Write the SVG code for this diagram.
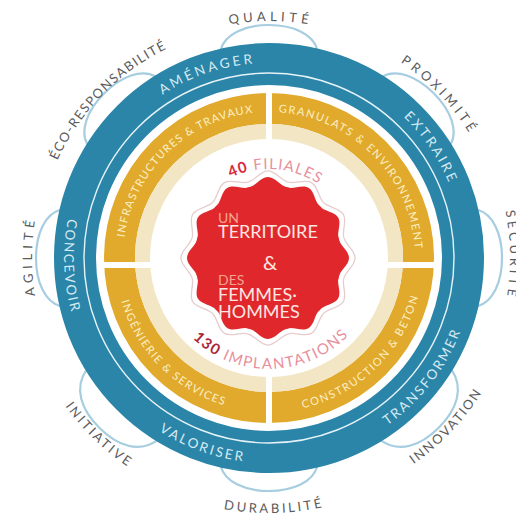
<svg xmlns="http://www.w3.org/2000/svg" width="516" height="518" viewBox="0 0 516 518">
<style>
  text{font-family:Lato,"Liberation Sans",Arial,sans-serif}
  .outer{font-size:13px;fill:#5c5c5c;letter-spacing:1px}
  .blue{font-size:13.5px;fill:#d4eaf3}
  .gold{font-size:11px;fill:#fcefc4}
  .wave{fill:none;stroke:#a6cde0;stroke-width:2.2}
  .mid{font-size:15px;fill:#e8909c}
  .salmon{fill:#f4a390}
  .light{fill:#fde6e2}
</style>
<defs>
  <path id="pQual" d="M63.8,139.5 A237,237 0 0 1 474.2,139.5"/>
  <path id="pProx" d="M211.9,29 A236,236 0 0 1 495.9,323"/>
  <path id="pSecu" d="M385.8,47.2 A241,241 0 0 1 393.1,464.6"/>
  <path id="pInno" d="M209.8,502.9 A252,252 0 0 0 510.7,186.9"/>
  <path id="pDura" d="M50.4,389.3 A255,255 0 0 0 492,381.6"/>
  <path id="pInit" d="M24.5,197 A252,252 0 0 0 338.5,500.2"/>
  <path id="pAgil" d="M150.5,463.2 A237,237 0 0 1 150.5,52.8"/>
  <path id="pEco" d="M44.6,320.7 A233,233 0 0 1 326.9,32.3"/>
  <path id="pAmen" d="M77.6,220.8 A195,195 0 0 1 396.9,110.8"/>
  <path id="pExtr" d="M253.4,63.6 A195,195 0 0 1 445.1,341.6"/>
  <path id="pTran" d="M240.5,461 A205,205 0 0 0 459.1,181.2"/>
  <path id="pValo" d="M67.1,293.6 A205,205 0 0 0 400.8,415"/>
  <path id="pConc" d="M160.4,84.2 A205,205 0 0 0 172.8,439"/>
  <path id="pInfr" d="M127.5,293.8 A146,146 0 0 1 308.8,117.5"/>
  <path id="pGran" d="M231.2,117 A146,146 0 0 1 410,295.8"/>
  <path id="pCons" d="M226.6,406 A154,154 0 0 0 418.4,220.7"/>
  <path id="pIng" d="M120.5,217.1 A154,154 0 0 0 307.8,407"/>
  <path id="pFil" d="M195.2,208.2 A89,89 0 0 1 349,219"/>
  <path id="pImp" d="M173.9,315.2 A111,111 0 0 0 366.1,311.8"/>
  <path id="bumpA" d="M-48.2,-208.5 C-44,-224 -24,-233 0,-233 C24,-233 44,-224 48.2,-208.5"/>
  <path id="bumpB" d="M-50,-208 C-46,-230 -26,-240 0,-240 C26,-240 46,-230 50,-208"/>
  <path id="wedge" d="M0,0 L70.51,-18.89 C72.32,-12.13 81,-7 81,0 C81,7 72.32,12.13 70.51,18.89 Z"/>
  <path id="lobe" d="M70.51,-18.89 C72.32,-12.13 81,-7 81,0 C81,7 72.32,12.13 70.51,18.89"/>
</defs>
<rect width="516" height="518" fill="#ffffff"/>

<g id="waves" transform="translate(269,258)">
  <use href="#bumpA" class="wave" transform="rotate(0)"/>
  <use href="#bumpA" class="wave" transform="rotate(45)"/>
  <use href="#bumpA" class="wave" transform="rotate(90)"/>
  <use href="#bumpB" class="wave" transform="rotate(135)"/>
  <use href="#bumpA" class="wave" transform="rotate(180)"/>
  <use href="#bumpB" class="wave" transform="rotate(225)"/>
  <use href="#bumpA" class="wave" transform="rotate(270)"/>
  <use href="#bumpA" class="wave" transform="rotate(315)"/>
</g>

<g id="values">
  <text class="outer"><textPath href="#pQual" startOffset="50%" text-anchor="middle" textLength="80" lengthAdjust="spacing">QUALITÉ</textPath></text>
  <text class="outer"><textPath href="#pProx" startOffset="50%" text-anchor="middle" textLength="100" lengthAdjust="spacing">PROXIMITÉ</textPath></text>
  <text class="outer"><textPath href="#pSecu" startOffset="50%" text-anchor="middle" textLength="86" lengthAdjust="spacing">SÉCURITÉ</textPath></text>
  <text class="outer"><textPath href="#pInno" startOffset="50%" text-anchor="middle" textLength="100" lengthAdjust="spacing">INNOVATION</textPath></text>
  <text class="outer"><textPath href="#pDura" startOffset="50%" text-anchor="middle" textLength="100" lengthAdjust="spacing">DURABILITÉ</textPath></text>
  <text class="outer"><textPath href="#pInit" startOffset="50%" text-anchor="middle" textLength="88" lengthAdjust="spacing">INITIATIVE</textPath></text>
  <text class="outer"><textPath href="#pAgil" startOffset="50%" text-anchor="middle" textLength="76" lengthAdjust="spacing">AGILITÉ</textPath></text>
  <text class="outer"><textPath href="#pEco" startOffset="50%" text-anchor="middle" textLength="160" lengthAdjust="spacing">ÉCO-RESPONSABILITÉ</textPath></text>
</g>

<g id="ring-metiers">
  <circle cx="269" cy="258" r="194" fill="none" stroke="#2a85a8" stroke-width="42"/>
  <circle cx="269" cy="258" r="185" fill="none" stroke="#e6f3f8" stroke-width="1.4"/>
  <text class="blue"><textPath href="#pAmen" startOffset="50%" text-anchor="middle" textLength="96" lengthAdjust="spacing">AMÉNAGER</textPath></text>
  <text class="blue"><textPath href="#pExtr" startOffset="50%" text-anchor="middle" textLength="80" lengthAdjust="spacing">EXTRAIRE</textPath></text>
  <text class="blue"><textPath href="#pTran" startOffset="50%" text-anchor="middle" textLength="120" lengthAdjust="spacing">TRANSFORMER</textPath></text>
  <text class="blue"><textPath href="#pValo" startOffset="50%" text-anchor="middle" textLength="90" lengthAdjust="spacing">VALORISER</textPath></text>
  <text class="blue"><textPath href="#pConc" startOffset="50%" text-anchor="middle" textLength="94" lengthAdjust="spacing">CONCEVOIR</textPath></text>
</g>

<g id="ring-activites">
  <circle cx="269" cy="258" r="149.5" fill="none" stroke="#e1aa2d" stroke-width="31"/>
  <circle cx="269" cy="258" r="126.5" fill="none" stroke="#f3e6c5" stroke-width="15"/>
  <rect x="266" y="88" width="6" height="54" fill="#ffffff"/>
  <rect x="266" y="374" width="6" height="54" fill="#ffffff"/>
  <rect x="99" y="262" width="54" height="6" fill="#ffffff"/>
  <rect x="385" y="262" width="54" height="6" fill="#ffffff"/>
  <text class="gold"><textPath href="#pInfr" startOffset="50%" text-anchor="middle" textLength="192" lengthAdjust="spacing">INFRASTRUCTURES &amp; TRAVAUX</textPath></text>
  <text class="gold"><textPath href="#pGran" startOffset="50%" text-anchor="middle" textLength="210" lengthAdjust="spacing">GRANULATS &amp; ENVIRONNEMENT</textPath></text>
  <text class="gold"><textPath href="#pCons" startOffset="50%" text-anchor="middle" textLength="168" lengthAdjust="spacing">CONSTRUCTION &amp; BETON</textPath></text>
  <text class="gold"><textPath href="#pIng" startOffset="50%" text-anchor="middle" textLength="152" lengthAdjust="spacing">INGÉNIERIE &amp; SERVICES</textPath></text>
</g>

<g id="chiffres">
  <text class="mid"><textPath href="#pFil" startOffset="50%" text-anchor="middle" textLength="92" lengthAdjust="spacing"><tspan font-weight="bold" fill="#d9283c">40</tspan> FILIALES</textPath></text>
  <text class="mid"><textPath href="#pImp" startOffset="50%" text-anchor="middle" textLength="172" lengthAdjust="spacing"><tspan font-weight="bold" fill="#a8283a">130</tspan> IMPLANTATIONS</textPath></text>
</g>

<g id="center">
  <g transform="translate(268,258)">
    <g fill="none" stroke="#e6cccc" stroke-width="1.2" transform="scale(1.075)">
      <use href="#lobe" transform="rotate(0)"/><use href="#lobe" transform="rotate(30)"/><use href="#lobe" transform="rotate(60)"/><use href="#lobe" transform="rotate(90)"/><use href="#lobe" transform="rotate(120)"/><use href="#lobe" transform="rotate(150)"/><use href="#lobe" transform="rotate(180)"/><use href="#lobe" transform="rotate(210)"/><use href="#lobe" transform="rotate(240)"/><use href="#lobe" transform="rotate(270)"/><use href="#lobe" transform="rotate(300)"/><use href="#lobe" transform="rotate(330)"/>
    </g>
    <g fill="#e0282c">
      <use href="#wedge" transform="rotate(0)"/><use href="#wedge" transform="rotate(30)"/><use href="#wedge" transform="rotate(60)"/><use href="#wedge" transform="rotate(90)"/><use href="#wedge" transform="rotate(120)"/><use href="#wedge" transform="rotate(150)"/><use href="#wedge" transform="rotate(180)"/><use href="#wedge" transform="rotate(210)"/><use href="#wedge" transform="rotate(240)"/><use href="#wedge" transform="rotate(270)"/><use href="#wedge" transform="rotate(300)"/><use href="#wedge" transform="rotate(330)"/>
      <circle r="73.5"/>
    </g>
  </g>
  <text x="218" y="223" font-size="14" class="salmon">UN</text>
  <text x="218" y="238" font-size="18" class="light">TERRITOIRE</text>
  <text x="270" y="270" font-size="20" class="light" text-anchor="middle">&amp;</text>
  <text x="218" y="285" font-size="14" class="salmon">DES</text>
  <text x="218" y="301" font-size="18" class="light">FEMMES·</text>
  <text x="218" y="318" font-size="18" class="light">HOMMES</text>
</g>
</svg>
